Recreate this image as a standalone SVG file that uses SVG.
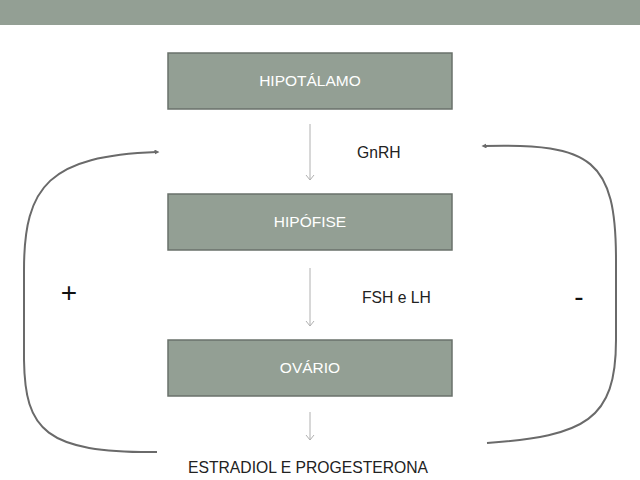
<svg xmlns="http://www.w3.org/2000/svg" width="640" height="480" viewBox="0 0 640 480">
<defs>
<style>
.box{fill:#939f94;stroke:#6a716b;stroke-width:1.5}
.bt{font-family:"Liberation Sans",Arial,sans-serif;font-size:15.5px;fill:#ffffff;text-anchor:middle}
.lbl{font-family:"Liberation Sans",Arial,sans-serif;font-size:15.7px;fill:#222222}
.sign{font-family:"Liberation Sans",Arial,sans-serif;font-size:28px;fill:#111111;text-anchor:middle}
.down{stroke:#b0b0b0;stroke-width:1;fill:none}
.loop{stroke:#6a6a6a;stroke-width:2;fill:none}
</style>
<marker id="open" viewBox="0 0 10 10" refX="9" refY="5" markerWidth="10" markerHeight="10" markerUnits="userSpaceOnUse" orient="auto">
<path d="M4,1 L9,5 L4,9" fill="none" stroke="#b0b0b0" stroke-width="1"/>
</marker>
<marker id="tip" viewBox="0 0 6 6" refX="3" refY="3" markerWidth="5" markerHeight="5" markerUnits="userSpaceOnUse" orient="auto">
<path d="M0,0 L6,3 L0,6 z" fill="#6a6a6a"/>
</marker>
</defs>
<rect x="0" y="0" width="640" height="25" fill="#939f94"/>
<g id="connectors">
<line class="down" x1="310" y1="124" x2="310" y2="180" marker-end="url(#open)"/>
<line class="down" x1="310" y1="268" x2="310" y2="326" marker-end="url(#open)"/>
<line class="down" x1="310" y1="412" x2="310" y2="440" marker-end="url(#open)"/>
<path class="loop" d="M157,452 C45,453 25,430 24,360 L24,270 C24,185 50,156 157,152" marker-end="url(#tip)"/>
<path class="loop" d="M487,443 C585,436 616,420 616,340 L616,260 C616,160 592,143 484,146" marker-end="url(#tip)"/>
</g>
<g id="hipotalamo">
<rect class="box" x="168" y="53" width="284" height="56"/>
<text class="bt" x="310" y="86">HIPOTÁLAMO</text>
</g>
<g id="hipofise">
<rect class="box" x="168" y="194" width="284" height="56"/>
<text class="bt" x="310" y="227">HIPÓFISE</text>
</g>
<g id="ovario">
<rect class="box" x="168" y="340" width="284" height="56"/>
<text class="bt" x="310" y="373">OVÁRIO</text>
</g>
<text class="lbl" x="357" y="158">GnRH</text>
<text class="lbl" x="362" y="303">FSH e LH</text>
<text class="lbl" x="188" y="473">ESTRADIOL E PROGESTERONA</text>
<text class="sign" x="69" y="302">+</text>
<text class="sign" x="579" y="306">-</text>
</svg>
